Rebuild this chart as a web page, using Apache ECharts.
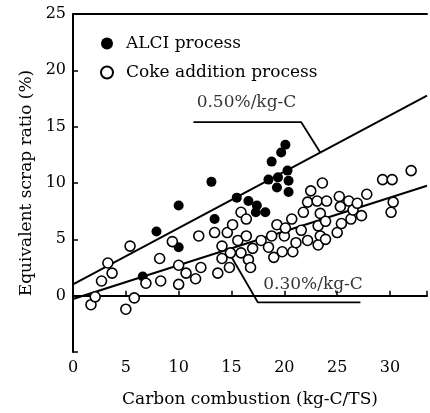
<!DOCTYPE html>
<html>
<head>
<meta charset="utf-8">
<script src="https://cdn.jsdelivr.net/npm/echarts@6/dist/echarts.min.js"></script>
<style>
  html, body { margin: 0; padding: 0; background: #fff; }
  #main { width: 430px; height: 413px; }
</style>
</head>
<body>
<div id="main"></div>
<script>
// ALCI process (filled) : [carbon combustion, scrap ratio]
const alciPoints = [
  [6.6, 1.7], [7.9, 5.7], [10.0, 4.3], [10.0, 8.0], [13.1, 10.1], [13.4, 6.8],
  [15.5, 8.7], [16.6, 8.4], [17.4, 8.0], [17.3, 7.4], [18.2, 7.4], [18.5, 10.3],
  [18.8, 11.9], [19.7, 12.7], [20.1, 13.4], [19.4, 10.5], [19.3, 9.6], [20.3, 11.1],
  [20.4, 10.2], [20.4, 9.2]
];
// Coke addition process (open)
const cokePoints = [
  [1.7, -0.8], [2.1, -0.1], [2.7, 1.3], [3.3, 2.9], [3.7, 2.0], [5.4, 4.4],
  [5.0, -1.2], [5.8, -0.2], [6.9, 1.1], [8.2, 3.3], [8.3, 1.3], [9.4, 4.8],
  [10.0, 2.7], [10.0, 1.0], [10.7, 2.0], [11.6, 1.5], [11.9, 5.3], [12.1, 2.5],
  [13.4, 5.6], [13.7, 2.0], [14.1, 4.4], [14.1, 3.3], [14.6, 5.6], [15.1, 6.3],
  [14.8, 2.5], [14.9, 3.8], [15.6, 4.9], [15.9, 7.4], [15.9, 3.8], [16.4, 6.8],
  [16.4, 5.3], [16.6, 3.2], [16.8, 2.5], [17.0, 4.2], [17.8, 4.9], [18.5, 4.3],
  [18.8, 5.3], [19.0, 3.4], [19.3, 6.3], [19.8, 3.9], [20.0, 5.3], [20.1, 6.0],
  [20.7, 6.8], [20.8, 3.9], [21.1, 4.7], [21.6, 5.8], [21.8, 7.4], [22.2, 8.3],
  [22.2, 4.9], [22.5, 9.3], [23.1, 8.4], [23.2, 6.2], [23.4, 7.3], [23.4, 5.3],
  [23.2, 4.5], [23.6, 10.0], [23.9, 6.6], [24.0, 8.4], [23.9, 5.0], [25.0, 5.6],
  [25.2, 8.8], [25.3, 7.9], [25.4, 6.4], [26.1, 8.4], [26.3, 6.8], [26.5, 7.6],
  [26.9, 8.2], [27.3, 7.1], [27.8, 9.0], [29.3, 10.3], [30.2, 10.3], [30.3, 8.3],
  [30.1, 7.4], [32.0, 11.1]
];
// regression lines (end points)
const alciLine = [[0, 1.0], [33.5, 17.75]];
const cokeLine = [[0, -0.3], [33.5, 9.75]];
// leader lines to slope labels
const alciLeader = [[11.4, 15.4], [21.6, 15.4], [23.4, 12.7]];
const cokeLeader = [[14.6, 4.08], [17.5, -0.6], [27.2, -0.6]];

const xTicks = ['0', '5', '10', '15', '20', '25', '30'];
const yTicks = ['0', '5', '10', '15', '20', '25'];

const serif = 'DejaVu Serif';
let chart = echarts.init(document.getElementById('main'));

chart.setOption({
  backgroundColor: '#fff',
  animation: false,
  grid: { left: 73, top: 14, right: 0, bottom: 55 },
  legend: {
    orient: 'vertical',
    left: 95,
    top: 30,
    itemGap: 12,
    itemWidth: 12,
    itemHeight: 12,
    data: ['ALCI process', 'Coke addition process'],
    textStyle: { fontFamily: serif, fontSize: 17, color: '#000', padding: [0, 0, 0, 8] }
  },
  xAxis: [{
    type: 'value', min: 0, max: 33.5, interval: 5,
    name: 'Carbon combustion (kg-C/TS)', nameLocation: 'middle', nameGap: 39,
    nameTextStyle: { fontFamily: serif, fontSize: 17, color: '#000' },
    axisLine: { lineStyle: { color: '#000', width: 2 } },
    axisTick: { inside: true, length: 5, lineStyle: { color: '#000', width: 1.5 } },
    axisLabel: {
      fontFamily: serif, fontSize: 16, color: '#000', margin: 8,
      formatter: v => xTicks.includes(String(v)) ? String(v) : ''
    },
    splitLine: { show: false }
  }, {
    type: 'value', position: 'top', min: 0, max: 33.5,
    axisLine: { show: true, lineStyle: { color: '#000', width: 2 } },
    axisTick: { show: false }, axisLabel: { show: false }, splitLine: { show: false }
  }],
  yAxis: {
    type: 'value', min: -5, max: 25, interval: 5,
    name: 'Equivalent scrap ratio (%)', nameLocation: 'middle', nameGap: 38,
    nameTextStyle: { fontFamily: serif, fontSize: 17, color: '#000' },
    axisLine: { show: true, lineStyle: { color: '#000', width: 2 } },
    axisTick: { inside: true, length: 5, lineStyle: { color: '#000', width: 1.5 } },
    axisLabel: {
      fontFamily: serif, fontSize: 16, color: '#000', margin: 7,
      formatter: v => yTicks.includes(String(v)) ? String(v) : ''
    },
    splitLine: { show: false }
  },
  series: [
    {
      name: 'alci-fit', type: 'line', data: alciLine, symbol: 'none', z: 1,
      lineStyle: { color: '#000', width: 2 }
    },
    {
      name: 'coke-fit', type: 'line', data: cokeLine, symbol: 'none', z: 1,
      lineStyle: { color: '#000', width: 2 }
    },
    {
      name: 'alci-leader', type: 'line', data: alciLeader, symbol: 'none', z: 1,
      lineStyle: { color: '#000', width: 1.8 }
    },
    {
      name: 'coke-leader', type: 'line', data: cokeLeader, symbol: 'none', z: 1,
      lineStyle: { color: '#000', width: 1.8 }
    },
    {
      name: 'ALCI process', type: 'scatter', data: alciPoints, symbol: 'circle',
      symbolSize: 10, z: 3,
      itemStyle: { color: '#000', opacity: 1 }
    },
    {
      name: 'Coke addition process', type: 'scatter', data: cokePoints, symbol: 'circle',
      symbolSize: 10, z: 4,
      itemStyle: { color: '#fff', borderColor: '#000', borderWidth: 1.6, opacity: 1 }
    },
    {
      name: 'labels', type: 'scatter', symbolSize: 0, z: 5,
      data: [[11.7, 17.1, '0.50%/kg-C'], [18.0, 1.0, '0.30%/kg-C']],
      label: {
        show: true, position: 'right', distance: 0,
        fontFamily: serif, fontSize: 17, color: '#000',
        formatter: p => p.data[2]
      }
    }
  ]
});
</script>
</body>
</html>
